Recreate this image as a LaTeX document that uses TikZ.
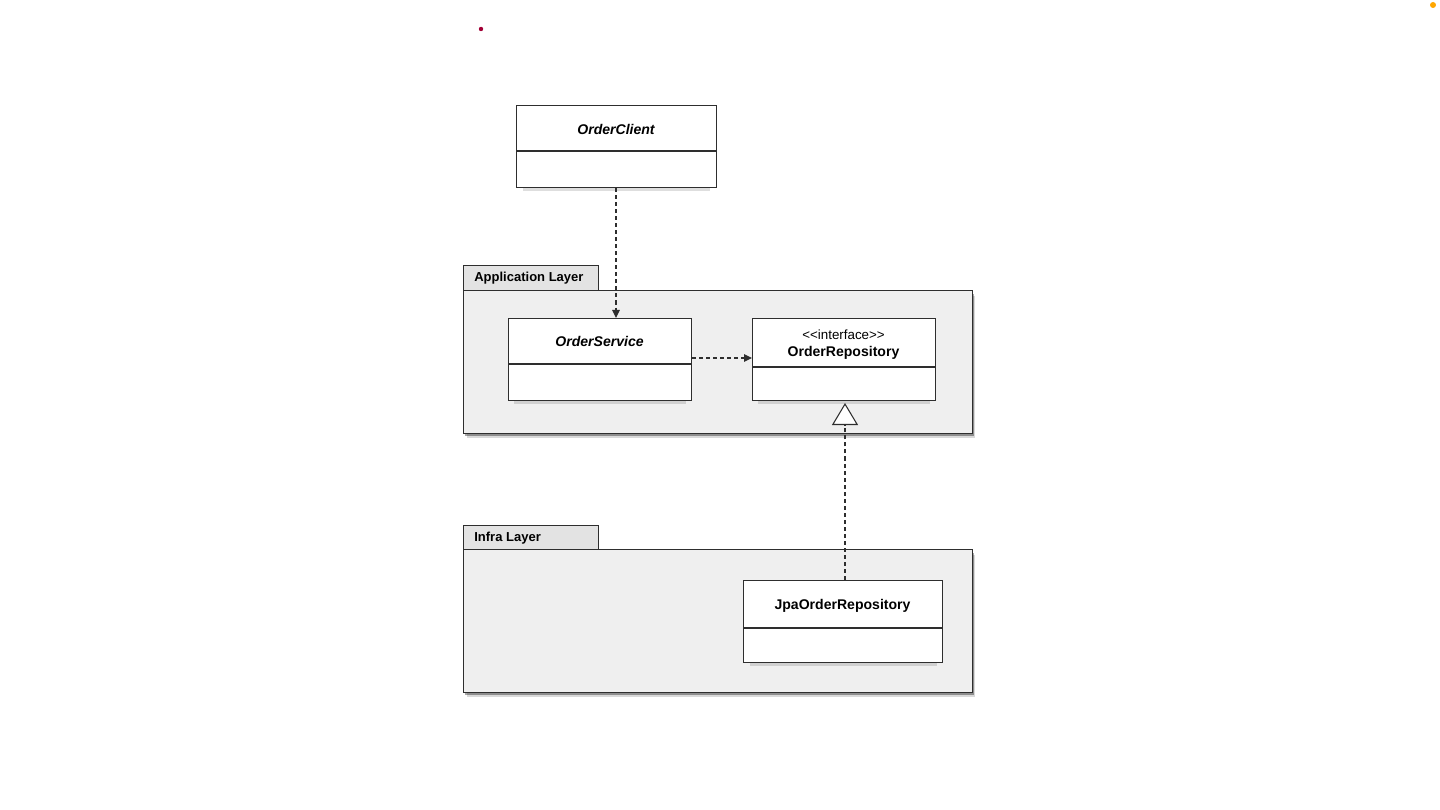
\documentclass[tikz,border=0pt]{standalone}
\usepackage{fontspec}
\setmainfont{Liberation Sans}
\usetikzlibrary{arrows.meta,shadows}
\definecolor{pkgfill}{HTML}{EFEFEF}
\definecolor{linegray}{HTML}{2E2E2E}
\tikzset{
  package/.style={draw=linegray, line width=0.6pt, fill=pkgfill, inner sep=0pt,
    anchor=north west,
    drop shadow={shadow xshift=0.06cm, shadow yshift=-0.10cm, opacity=0.15, fill=black},
    drop shadow={shadow xshift=0.03cm, shadow yshift=-0.06cm, opacity=0.35, fill=black}},
  pkgtab/.style={draw=linegray, line width=0.6pt, fill=pkgfill!95!black, inner sep=0pt,
    anchor=north west, minimum width=2.7cm, minimum height=0.5cm},
  classbox/.style={draw=linegray, line width=0.6pt, fill=white, inner sep=0pt,
    anchor=north west, minimum height=1.64cm,
    drop shadow={shadow xshift=0cm, shadow yshift=-0.13cm, shadow scale=0.94,
      opacity=0.13, fill=black}},
  classname/.style={font=\fontsize{8}{9.6}\selectfont\bfseries, inner sep=0pt},
  stereo/.style={font=\fontsize{7.6}{9}\selectfont, inner sep=0pt},
  pkgname/.style={font=\fontsize{7.4}{9}\selectfont\bfseries, inner sep=0pt, anchor=west},
  depend/.style={draw=linegray, line width=0.6pt, dash pattern=on 2.3pt off 1.7pt,
    -{Triangle[length=0.16cm, width=0.15cm]}},
  realize/.style={draw=linegray, line width=0.6pt, dash pattern=on 2.3pt off 1.7pt,
    -{Triangle[open, length=0.44cm, width=0.52cm, line width=0.6pt, fill=white]}},
}
\begin{document}
\begin{tikzpicture}[x=0.02cm, y=-0.02cm]
  \useasboundingbox (0,0) rectangle (1440,810);
  \fill[white] (0,0) rectangle (1440,810);
  % screen marks
  \fill[purple!85!black] (481,29) circle (2.2);
  \fill[orange!70!yellow] (1433,5) circle (3);

  % packages
  \node[pkgtab] (apptab) at (463,265) {};
  \node[pkgname] at (474,278.5) {Application Layer};
  \node[package, minimum width=10.18cm, minimum height=2.86cm] (app) at (463,290) {};
  \node[pkgtab, minimum height=0.48cm] (infratab) at (463,525) {};
  \node[pkgname] at (474,538) {Infra Layer};
  \node[package, minimum width=10.18cm, minimum height=2.86cm] (infra) at (463,549) {};

  % classes
  \node[classbox, minimum width=4cm] (client) at (516,105) {};
  \node[classname, font=\fontsize{8}{9.6}\selectfont\bfseries\itshape] at (616,129.5) {OrderClient};
  \draw[linegray, line width=0.6pt] (516,151) -- (716,151);

  \node[classbox, minimum width=3.66cm] (service) at (508,318) {};
  \node[classname, font=\fontsize{8}{9.6}\selectfont\bfseries\itshape] at (599.5,341.5) {OrderService};
  \draw[linegray, line width=0.6pt] (508,364) -- (691,364);

  \node[classbox, minimum width=3.66cm] (repo) at (752,318) {};
  \node[stereo] at (843.5,334.5) {<{}<interface>{}>};
  \node[classname] at (843.5,352.5) {OrderRepository};
  \draw[linegray, line width=0.6pt] (752,367) -- (935,367);

  \node[classbox, minimum width=3.98cm] (jpa) at (743,580) {};
  \node[classname] at (842.5,605.5) {JpaOrderRepository};
  \draw[linegray, line width=0.6pt] (743,628) -- (942,628);

  % connectors
  \draw[depend] (client.south -| 616,0) -- (service.north -| 616,0);
  \draw[depend] (service.east |- 0,358) -- (repo.west |- 0,358);
  \draw[realize] (jpa.north -| 845,0) -- ([yshift=-0.04cm]repo.south -| 845,0);
\end{tikzpicture}
\end{document}
